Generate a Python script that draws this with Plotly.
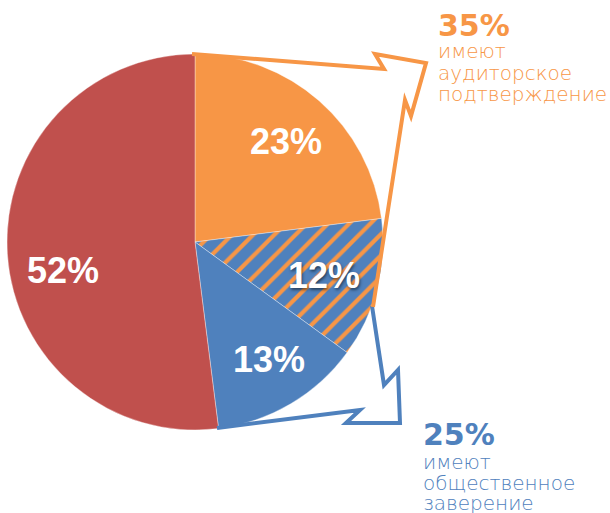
import math
import plotly.graph_objects as go

# ---- data ----
categories = ["Только аудиторское подтверждение", "Оба вида", "Только общественное заверение", "Без подтверждения"]
values = [23, 12, 13, 52]
audit_parts = [0, 1]      # slices that make up "аудиторское подтверждение"
public_parts = [1, 2]     # slices that make up "общественное заверение"
audit_lines = ["имеют", "аудиторское", "подтверждение"]
public_lines = ["имеют", "общественное", "заверение"]

ORANGE = "#F79646"
BLUE = "#4F81BD"
RED = "#C0504D"
slice_colors = [ORANGE, BLUE, BLUE, RED]
slice_patterns = ["", "/", "", ""]

W, H = 610, 513
CX, CY, R = 195, 242, 188


def px(x):
    return x / W


def py(y):
    return 1 - y / H


fig = go.Figure()
fig.add_trace(go.Pie(
    labels=categories,
    values=values,
    sort=False,
    direction="clockwise",
    rotation=0,
    textinfo="none",
    hoverinfo="label+percent",
    showlegend=False,
    marker=dict(
        colors=slice_colors,
        line=dict(color="rgba(255,255,255,0.6)", width=0.6),
        pattern=dict(shape=slice_patterns, fgcolor=ORANGE, bgcolor=slice_colors,
                     size=15, solidity=0.28, fillmode="replace"),
    ),
    domain=dict(x=[px(CX - R), px(CX + R)], y=[py(CY + R), py(CY - R)]),
))

# ---- slice labels, placed from the data's angles ----
total = sum(values)
r_frac = [0.72, 0.71, 0.74, 0.72]
ang_nudge = [0.8, 0, -1.5, -8.4]
shadows = ["none", "1px 2px 3px rgba(0,0,0,0.5)", "none", "none"]
cum = 0
for i, v in enumerate(values):
    mid = (cum + v / 2) / total * 360 + ang_nudge[i]
    cum += v
    rr = r_frac[i] * R
    x = CX + rr * math.sin(math.radians(mid))
    y = CY - rr * math.cos(math.radians(mid))
    fig.add_annotation(
        x=px(x), y=py(y), xref="paper", yref="paper",
        text=f"{round(v / total * 100)}%", showarrow=False,
        xanchor="center", yanchor="middle",
        font=dict(family="Liberation Sans, Arial, sans-serif", size=36, color="white",
                  weight="bold", shadow=shadows[i]),
    )

# ---- callout outlines (decoration) ----
orange_path = [(192, 54), (384, 69), (375, 54), (426, 63), (411, 116), (405, 100), (373, 307)]
blue_path = [(372, 306), (384, 385), (398, 370), (400, 423), (346, 423), (360, 410), (217, 428)]


def to_path(pts):
    return "M " + " L ".join(f"{px(x):.5f},{py(y):.5f}" for x, y in pts)


fig.add_shape(type="path", path=to_path(blue_path), xref="paper", yref="paper",
              line=dict(color=BLUE, width=4), layer="above")
fig.add_shape(type="path", path=to_path(orange_path), xref="paper", yref="paper",
              line=dict(color=ORANGE, width=4), layer="above")

# ---- callout texts ----
audit_total = sum(values[i] for i in audit_parts)
public_total = sum(values[i] for i in public_parts)

thin_font = "DejaVu Sans ExtraLight, DejaVu Sans, sans-serif"
big_font = "DejaVu Sans, sans-serif"


def callout(x0, y_big, lines, ys, color, pct):
    fig.add_annotation(x=px(x0), y=py(y_big), xref="paper", yref="paper",
                       text=f"{pct}%", showarrow=False, xanchor="left", yanchor="middle",
                       borderpad=0,
                       font=dict(family=big_font, size=30, color=color, weight="bold"))
    for t, yy in zip(lines, ys):
        fig.add_annotation(x=px(x0), y=py(yy), xref="paper", yref="paper",
                           text=t, showarrow=False, xanchor="left", yanchor="middle",
                           borderpad=0,
                           font=dict(family=thin_font, size=20, color=color, weight=200))


callout(437, 25, audit_lines, [51, 73, 94], ORANGE, audit_total)
callout(422, 434, public_lines, [462, 483, 503], BLUE, public_total)

fig.update_layout(
    width=W, height=H,
    margin=dict(l=0, r=0, t=0, b=0),
    paper_bgcolor="white", plot_bgcolor="white",
)
fig.write_html("out.html", config={"displayModeBar": False},
               post_script="document.body.style.margin='0';document.body.style.padding='0';")
